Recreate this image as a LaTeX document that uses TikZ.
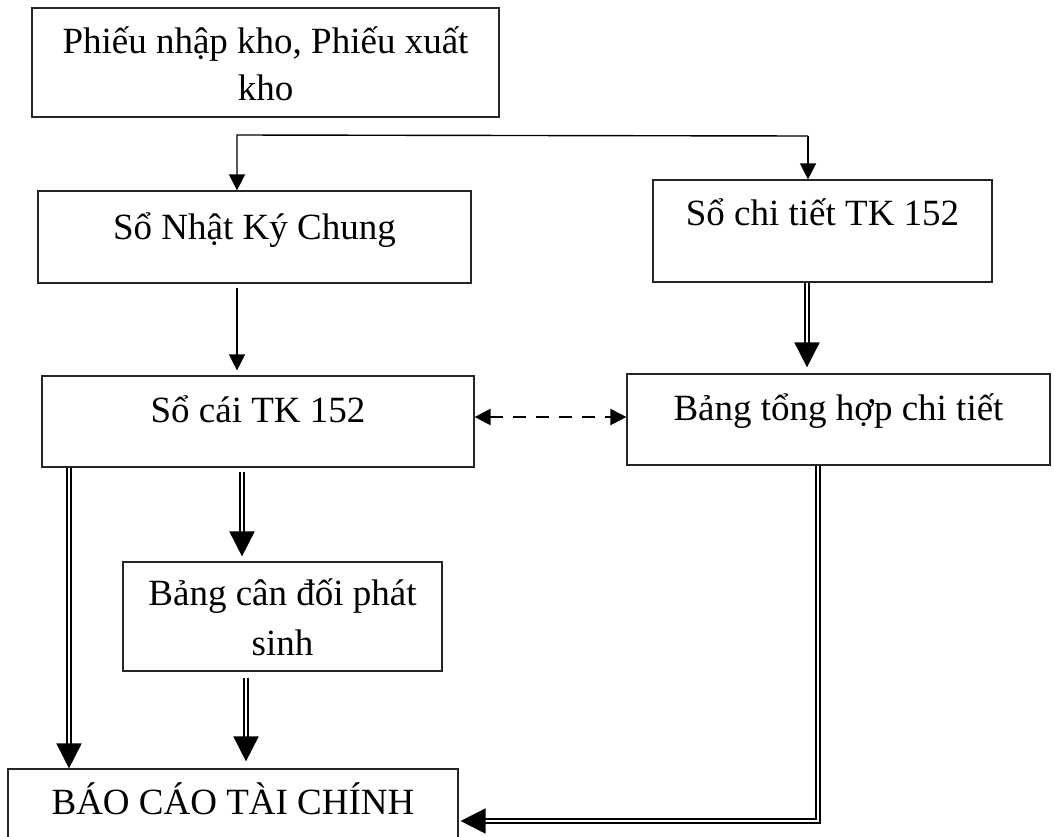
\documentclass[tikz,border=0pt]{standalone}
\usepackage{fontspec}
\setmainfont{Liberation Serif}
\usetikzlibrary{arrows.meta}

\tikzset{
  box/.style={draw=black!85, line width=1.2pt, rectangle, inner sep=0pt},
  lbl/.style={font=\fontsize{37}{49.5}\selectfont, align=center, inner sep=0pt, anchor=base},
  arr/.style={line width=1.4pt, line join=miter, -{Triangle[length=16pt,width=16pt]}},
  dbl/.style={double, double distance=2.8pt, line width=1.8pt, -{Triangle[length=25pt,width=25pt]}},
  dsh/.style={line width=2.2pt, dash pattern=on 13pt off 10pt,
    {Triangle[length=16pt,width=16pt]}-{Triangle[length=16pt,width=16pt]}},
}

\begin{document}
\begin{tikzpicture}[x=1pt, y=1pt]
  \useasboundingbox (0,0) rectangle (1054,-836);

  % boxes
  \node[box, minimum width=467pt, minimum height=109pt] (phieu) at (265.5,-62.5) {};
  \node[box, minimum width=433pt, minimum height=92pt]  (nkc)   at (254.5,-237) {};
  \node[box, minimum width=339pt, minimum height=102pt] (ct)    at (822.5,-231) {};
  \node[box, minimum width=432pt, minimum height=91pt]  (sc)    at (258,-421.5) {};
  \node[box, minimum width=423pt, minimum height=91pt]  (th)    at (838.5,-419.5) {};
  \node[box, minimum width=319pt, minimum height=109pt] (cd)    at (282.5,-616.5) {};
  \node[box, minimum width=450pt, minimum height=76pt]  (bc)    at (233,-807) {};

  % labels
  \node[lbl, font=\fontsize{37}{47}\selectfont] (phieu-t) at (265.5,-100) {Phiếu nhập kho, Phiếu xuất\\kho};
  \node[lbl] (nkc-t) at (254.5,-239) {Sổ Nhật Ký Chung};
  \node[lbl] (ct-t)  at (822.5,-225) {Sổ chi tiết TK 152};
  \node[lbl] (sc-t)  at (258,-422) {Sổ cái TK 152};
  \node[lbl] (th-t)  at (838.5,-420) {Bảng tổng hợp chi tiết};
  \node[lbl] (cd-t)  at (282.5,-655) {Bảng cân đối phát\\sinh};
  \node[lbl] (bc-t)  at (233,-814) {BÁO CÁO TÀI CHÍNH};

  % helper points for connector routes
  \coordinate (jL) at (237,-135);
  \coordinate (jR) at (808,-136);
  \coordinate (xA) at (242,0);
  \coordinate (xB) at (246,0);
  \coordinate (xC) at (69,0);
  \coordinate (xD) at (807,0);
  \coordinate (k)  at (818,-821);
  \coordinate (yd) at (0,-417);

  % single arrows
  \draw[arr] (jR) -- (jL) -- (nkc.north -| jL);
  \draw[arr] (jR) -- (ct.north -| jR);
  \draw[arr] ([yshift=-4pt]nkc.south -| jL) -- ([yshift=5pt]sc.north -| jL);

  % dashed two-way arrow
  \draw[dsh] (sc.east |- yd) -- (th.west |- yd);

  % double arrows
  \draw[dbl] (ct.south -| xD) -- ([yshift=6pt]th.north -| xD);
  \draw[dbl] ([yshift=-4pt]sc.south -| xA) -- ([yshift=5pt]cd.north -| xA);
  \draw[dbl] ([yshift=-6pt]cd.south -| xB) -- ([yshift=7pt]bc.north -| xB);
  \draw[dbl] (sc.south -| xC) -- (bc.north -| xC);
  \draw[dbl] (th.south -| k) -- (k) -- ([xshift=2pt]bc.east |- k);
\end{tikzpicture}
\end{document}
